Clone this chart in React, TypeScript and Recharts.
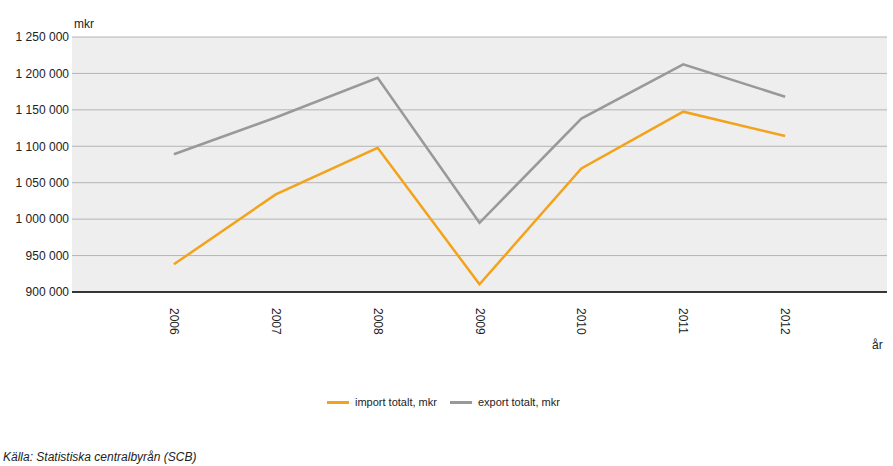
import React from "react";
import { LineChart, Line, XAxis, YAxis, CartesianGrid } from "recharts";

const years = [2006, 2007, 2008, 2009, 2010, 2011, 2012];
const importValues = [938000, 1034000, 1098000, 910500, 1069500, 1147500, 1114000];
const exportValues = [1089000, 1139500, 1194000, 995000, 1138000, 1212500, 1168000];
const yTicks = [900000, 950000, 1000000, 1050000, 1100000, 1150000, 1200000, 1250000];
const seriesNames = ["import totalt, mkr", "export totalt, mkr"];
const seriesColors = ["#f2a31b", "#999999"];

const data = years.map((y, i) => ({ year: y, imp: importValues[i], exp: exportValues[i] }));

const FONT = "'Liberation Sans', Arial, sans-serif";

const fmt = (v: number) => String(v).replace(/\B(?=(\d{3})+(?!\d))/g, " ");

const XTick = (props: any) => {
  const { x, y, payload } = props;
  return (
    <text
      x={x}
      y={y + 8}
      transform={`rotate(90, ${x}, ${y + 8})`}
      textAnchor="start"
      dominantBaseline="central"
      fontSize={12}
      fontFamily={FONT}
      fill="#222"
    >
      {payload.value}
    </text>
  );
};

export default function App() {
  return (
    <div style={{ position: "absolute", left: 0, top: 0, width: 893, height: 466, background: "#fff", fontFamily: FONT }}>
      <LineChart width={893} height={466} data={data} margin={{ top: 37, right: 6, left: 0, bottom: 144 }}>
        <CartesianGrid vertical={false} stroke="#b4b4b4" fill="#eeeeee" fillOpacity={1} />
        <XAxis
          dataKey="year"
          type="number"
          domain={[2005, 2013]}
          ticks={years}
          tick={<XTick />}
          tickLine={false}
          axisLine={{ stroke: "#000", strokeWidth: 1.5 }}
          height={30}
          interval={0}
        />
        <YAxis
          width={72}
          domain={[900000, 1250000]}
          ticks={yTicks}
          tickFormatter={fmt}
          tickLine={false}
          axisLine={false}
          tickSize={0}
          tickMargin={3}
          interval={0}
          tick={{ fontSize: 12, fontFamily: FONT, fill: "#222" }}
        />
        <Line type="linear" dataKey="imp" stroke={seriesColors[0]} strokeWidth={2.5} dot={false} isAnimationActive={false} />
        <Line type="linear" dataKey="exp" stroke={seriesColors[1]} strokeWidth={2.5} dot={false} isAnimationActive={false} />
      </LineChart>
      <div style={{ position: "absolute", left: 74, top: 17, fontSize: 12, color: "#222" }}>mkr</div>
      <div style={{ position: "absolute", left: 872, top: 338, fontSize: 12, color: "#222" }}>år</div>
      <div style={{ position: "absolute", left: 327, top: 396, fontSize: 11, color: "#222", display: "flex", alignItems: "center" }}>
        {seriesNames.map((n, i) => (
          <div key={n} style={{ display: "flex", alignItems: "center", marginRight: i === 0 ? 13 : 0 }}>
            <div style={{ width: 22, height: 3, background: seriesColors[i], marginRight: 6 }} />
            <span>{n}</span>
          </div>
        ))}
      </div>
      <div style={{ position: "absolute", left: 3, top: 450, fontSize: 12, fontStyle: "italic", color: "#222" }}>
        Källa: Statistiska centralbyrån (SCB)
      </div>
    </div>
  );
}
